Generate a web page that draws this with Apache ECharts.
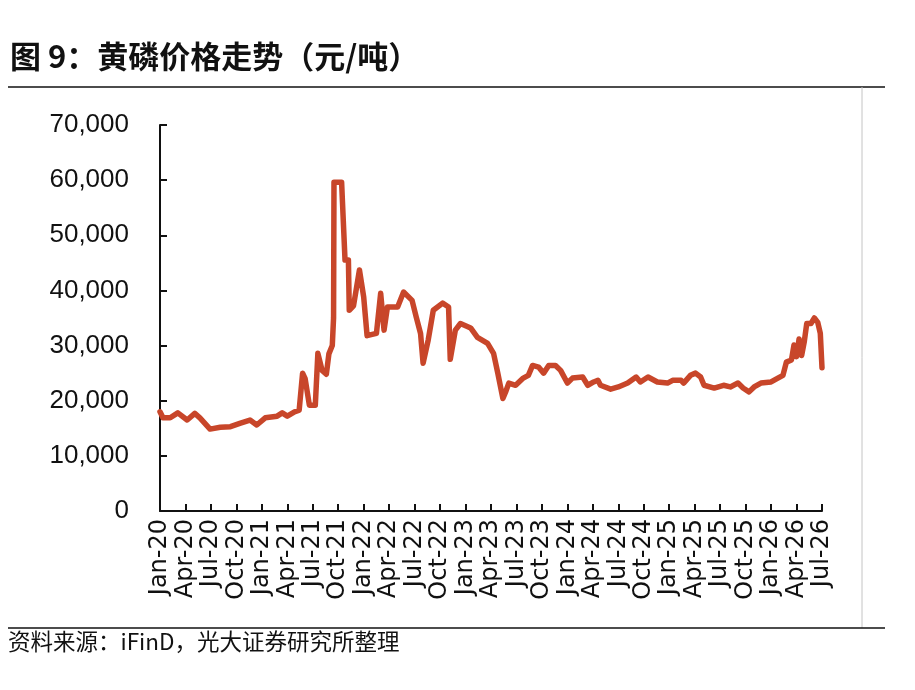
<!DOCTYPE html>
<html>
<head>
<meta charset="utf-8">
<script src="https://cdn.jsdelivr.net/npm/echarts@6/dist/echarts.min.js"></script>
<style>
  html, body { margin: 0; padding: 0; background: #fff; }
  #chart { width: 915px; height: 690px; }
</style>
</head>
<body>
<div id="chart"></div>
<script>
// 季度刻度标签
const quarterLabels = [
  "Jan-20", "Apr-20", "Jul-20", "Oct-20", "Jan-21", "Apr-21", "Jul-21", "Oct-21",
  "Jan-22", "Apr-22", "Jul-22", "Oct-22", "Jan-23", "Apr-23", "Jul-23", "Oct-23",
  "Jan-24", "Apr-24", "Jul-24", "Oct-24", "Jan-25", "Apr-25", "Jul-25", "Oct-25",
  "Jan-26", "Apr-26", "Jul-26"
];

// 距 2020年1月 的月数
const monthIdx = [
  0, 0.35, 1.2, 2.1, 3.2, 4.1, 4.7, 5.9, 7.1, 8.3, 9.4, 10.6, 11.4, 12.4, 13.8, 14.4,
  15.0, 15.9, 16.4, 16.8, 17.1, 17.6, 18.3, 18.6, 19.1, 19.6, 19.9, 20.3, 20.45, 20.5,
  21.4, 21.5, 21.7, 21.8, 22.2, 22.3, 22.8, 23.5, 24.0, 24.4, 25.5, 26.0, 26.4, 26.8,
  28.0, 28.7, 29.7, 30.2, 30.7, 31.0, 31.6, 32.2, 33.3, 34.0, 34.2, 34.8, 35.4, 36.6,
  37.4, 38.6, 39.3, 39.8, 40.4, 40.7, 41.1, 41.9, 42.8, 43.4, 43.9, 44.6, 45.2, 45.8,
  46.6, 47.2, 48.0, 48.6, 49.8, 50.4, 51.1, 51.6, 51.9, 53.1, 54.0, 55.1, 56.1, 56.6,
  57.5, 58.6, 59.8, 60.4, 61.4, 61.7, 62.5, 63.1, 63.7, 64.1, 65.3, 66.4, 67.2, 68.1,
  68.7, 69.4, 70.0, 70.8, 72.0, 72.8, 73.4, 73.8, 74.4, 74.7, 75.0, 75.3, 75.6, 75.9,
  76.2, 76.7, 77.1, 77.5, 77.8, 78.0
];

// 黄磷价格（元/吨）
const price = [
  18000, 16900, 16900, 17800, 16500, 17700, 16900, 14850, 15200, 15300, 15900, 16500, 15600, 16900, 17200, 17800,
  17200, 18000, 18300, 25000, 24000, 19200, 19200, 28600, 25500, 24800, 28500, 30000, 35000, 59600,
  59600, 56000, 55800, 45500, 45500, 36400, 37200, 43700, 38800, 31800, 32200, 39500, 32800, 37000,
  37000, 39700, 38200, 35100, 32200, 26800, 31000, 36400, 37700, 37000, 27500, 32800, 34000, 33200,
  31500, 30400, 28600, 25000, 20400, 21500, 23200, 22800, 24100, 24600, 26400, 26100, 25000, 26400,
  26400, 25500, 23200, 24100, 24300, 22800, 23400, 23700, 22800, 22100, 22500, 23200, 24300, 23400,
  24300, 23400, 23200, 23700, 23700, 23200, 24600, 25000, 24300, 22800, 22300, 22800, 22500, 23200,
  22300, 21600, 22500, 23200, 23400, 24100, 24600, 27000, 27400, 30100, 28000, 31200, 28200, 30600,
  34000, 34000, 35000, 34200, 32200, 26000
];

const chart = echarts.init(document.getElementById("chart"));

const lineData = monthIdx.map((m, i) => [m, price[i]]);
const axisColor = "#111";

const option = {
  animation: false,
  backgroundColor: "#fff",
  grid: { left: 160, right: 93, top: 125, bottom: 179 },
  xAxis: {
    type: "value",
    min: 0,
    max: 78,
    interval: 3,
    axisLine: { show: true, onZero: false, lineStyle: { color: axisColor, width: 2 } },
    axisTick: { show: true, inside: true, length: 7, lineStyle: { color: axisColor, width: 2 } },
    splitLine: { show: false },
    axisLabel: {
      rotate: 90,
      margin: 8,
      color: "#111",
      fontFamily: "DejaVu Sans",
      fontSize: 24,
      showMinLabel: true,
      showMaxLabel: true,
      formatter: function (v) {
        return quarterLabels[Math.round(v / 3)] || "";
      }
    }
  },
  yAxis: {
    type: "value",
    min: 0,
    max: 70000,
    interval: 10000,
    axisLine: { show: true, lineStyle: { color: axisColor, width: 2 } },
    axisTick: { show: true, inside: true, length: 7, lineStyle: { color: axisColor, width: 2 } },
    splitLine: { show: false },
    axisLabel: {
      margin: 31,
      color: "#111",
      fontFamily: "Liberation Sans",
      fontSize: 26,
      formatter: function (v) {
        return v.toLocaleString("en-US");
      }
    }
  },
  series: [
    {
      type: "line",
      data: lineData,
      showSymbol: false,
      lineStyle: { color: "#C8462A", width: 5.5, join: "round", cap: "round" }
    }
  ],
  graphic: [
    {
      type: "text",
      left: 10,
      top: 41,
      style: {
        text: "图 9：黄磷价格走势（元/吨）",
        font: 'bold 31px "Noto Sans CJK SC"',
        fill: "#111"
      }
    },
    {
      type: "line",
      shape: { x1: 8, y1: 87, x2: 885, y2: 87 },
      style: { stroke: "#111", lineWidth: 1.5 }
    },
    {
      type: "line",
      shape: { x1: 862, y1: 87, x2: 862, y2: 628 },
      style: { stroke: "#c4c4c4", lineWidth: 1 }
    },
    {
      type: "line",
      shape: { x1: 8, y1: 628, x2: 885, y2: 628 },
      style: { stroke: "#111", lineWidth: 1.5 }
    },
    {
      type: "text",
      left: 8,
      top: 630,
      style: {
        text: "资料来源：iFinD，光大证券研究所整理",
        font: '22.5px "Noto Sans CJK SC"',
        fill: "#111"
      }
    }
  ]
};

chart.setOption(option);
</script>
</body>
</html>
